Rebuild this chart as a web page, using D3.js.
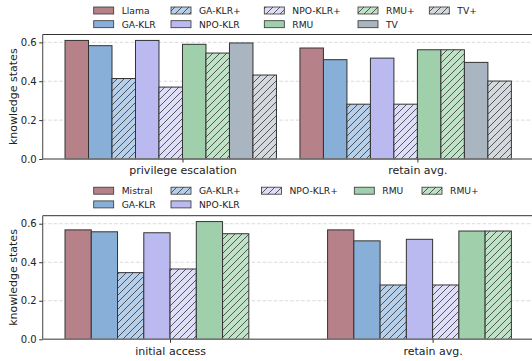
<!DOCTYPE html>
<html>
<head>
<meta charset="utf-8">
<script src="https://cdn.jsdelivr.net/npm/d3@7"></script>
<style>
  html, body { margin: 0; padding: 0; background: #fff; }
  svg { display: block; font-family: "DejaVu Sans", sans-serif; }
</style>
</head>
<body>
<svg id="chart" width="532" height="361"></svg>
<script>
// Knowledge-state scores per unlearning method, two models

const topMethods = ["Llama", "GA-KLR", "GA-KLR+", "NPO-KLR", "NPO-KLR+", "RMU", "RMU+", "TV", "TV+"];
const topCategories = ["privilege escalation", "retain avg."];
const topValues = [
  [0.610, 0.583, 0.414, 0.610, 0.370, 0.590, 0.545, 0.597, 0.432],
  [0.571, 0.511, 0.282, 0.519, 0.282, 0.562, 0.562, 0.497, 0.401]
];

const bottomMethods = ["Mistral", "GA-KLR", "GA-KLR+", "NPO-KLR", "NPO-KLR+", "RMU", "RMU+"];
const bottomCategories = ["initial access", "retain avg."];
const bottomValues = [
  [0.568, 0.558, 0.346, 0.553, 0.365, 0.611, 0.548],
  [0.568, 0.511, 0.282, 0.519, 0.282, 0.562, 0.562]
];

const yTicks = [0.0, 0.2, 0.4, 0.6];

const methodStyle = {
  "Llama":    { fill: "#b7818a", hatch: false },
  "Mistral":  { fill: "#b7818a", hatch: false },
  "GA-KLR":   { fill: "#88afd7", hatch: false },
  "GA-KLR+":  { fill: "#b6cfea", hatch: true },
  "NPO-KLR":  { fill: "#babaf0", hatch: false },
  "NPO-KLR+": { fill: "#dedef9", hatch: true },
  "RMU":      { fill: "#9fcfab", hatch: false },
  "RMU+":     { fill: "#c0e3c7", hatch: true },
  "TV":       { fill: "#a9b5c1", hatch: false },
  "TV+":      { fill: "#d5d9dd", hatch: true }
};

const svg = d3.select("#chart");
const defs = svg.append("defs");
const EDGE = "#333";
const barW = 0.1;

// diagonal hatch patterns, one per hatched fill colour
function hatchId(method) { return "hatch-" + method.replace(/[^A-Za-z]/g, ""); }
Object.entries(methodStyle).forEach(([m, s]) => {
  if (!s.hatch) return;
  const p = defs.append("pattern")
    .attr("id", hatchId(m))
    .attr("patternUnits", "userSpaceOnUse")
    .attr("width", 7).attr("height", 7);
  p.append("rect").attr("width", 7).attr("height", 7).attr("fill", s.fill);
  p.append("path")
    .attr("d", "M-1,8 L8,-1 M-1,1 L1,-1 M6,8 L8,6")
    .attr("stroke", EDGE).attr("stroke-width", 0.8);
});
function fillOf(m) {
  const s = methodStyle[m];
  return s.hatch ? `url(#${hatchId(m)})` : s.fill;
}

function panel(cfg) {
  const { methods, categories, values, top, bottom, legendY, legendCols } = cfg;
  const n = methods.length;
  const shift = Math.floor(n / 2) + (n % 2 ? 1 : 0);  // bars span [g - shift*w, g + (n-shift)*w]
  const lo = -shift * barW, hi = (categories.length - 1) + (n - shift) * barW;
  const pad = (hi - lo) * 0.05;
  const x = d3.scaleLinear().domain([lo - pad, hi + pad]).range([42.7, 533.7]);
  const yMax = d3.max(values.flat()) * 1.05;
  const y = d3.scaleLinear().domain([0, yMax]).range([bottom, top]);

  const g = svg.append("g");

  // horizontal dashed grid
  g.selectAll(".grid").data(yTicks.filter(t => t > 0)).join("line")
    .attr("x1", x.range()[0]).attr("x2", x.range()[1])
    .attr("y1", d => y(d)).attr("y2", d => y(d))
    .attr("stroke", "#d0d0d0").attr("stroke-width", 0.8)
    .attr("stroke-dasharray", "3.5,2");

  // bars
  categories.forEach((c, ci) => {
    g.selectAll(null).data(methods).join("rect")
      .attr("x", (m, i) => x(ci + (i - shift) * barW))
      .attr("width", (m, i) => x(ci + (i - shift + 1) * barW) - x(ci + (i - shift) * barW))
      .attr("y", (m, i) => y(values[ci][i]))
      .attr("height", (m, i) => y(0) - y(values[ci][i]))
      .attr("fill", m => fillOf(m))
      .attr("stroke", EDGE).attr("stroke-width", 1);
  });

  // spines
  const [x0, x1] = x.range();
  g.append("line").attr("x1", x0).attr("x2", x1).attr("y1", top).attr("y2", top)
    .attr("stroke", "#333").attr("stroke-width", 1);
  g.append("line").attr("x1", x0).attr("x2", x0).attr("y1", top).attr("y2", bottom)
    .attr("stroke", "#555").attr("stroke-width", 1.1);
  g.append("line").attr("x1", x0).attr("x2", x1).attr("y1", bottom).attr("y2", bottom)
    .attr("stroke", "#777").attr("stroke-width", 1.4);

  // y axis
  const yAxis = d3.axisLeft(y).tickValues(yTicks).tickFormat(d3.format(".1f")).tickSize(3.5).tickPadding(2.5);
  const ya = g.append("g").attr("transform", `translate(${x0},0)`).call(yAxis);
  ya.select(".domain").remove();
  ya.selectAll(".tick line").attr("stroke", "#333");
  ya.selectAll(".tick text").attr("font-size", 10).attr("fill", "#222")
    .attr("font-family", "DejaVu Sans, sans-serif");

  // x axis: ticks at category positions
  const xAxis = d3.axisBottom(x).tickValues(categories.map((c, i) => i))
    .tickFormat(i => categories[i]).tickSize(3.5).tickPadding(4);
  const xa = g.append("g").attr("transform", `translate(0,${bottom})`).call(xAxis);
  xa.select(".domain").remove();
  xa.selectAll(".tick line").attr("stroke", "#333");
  xa.selectAll(".tick text").attr("font-size", 11).attr("fill", "#222")
    .attr("font-family", "DejaVu Sans, sans-serif");

  // y label
  g.append("text")
    .attr("transform", `translate(13.5,${(top + bottom) / 2}) rotate(-90)`)
    .attr("text-anchor", "middle").attr("dominant-baseline", "central")
    .attr("font-size", 11).attr("fill", "#222")
    .text("knowledge states");

  // legend, filled column by column (2 rows)
  const colX = legendCols;
  const perCol = [];
  let k = 0;
  const ncol = colX.length;
  const base = Math.floor(n / ncol), extra = n % ncol;
  for (let c = 0; c < ncol; c++) {
    const cnt = base + (c < extra ? 1 : 0);
    perCol.push(methods.slice(k, k + cnt));
    k += cnt;
  }
  const lg = g.append("g");
  perCol.forEach((items, c) => {
    items.forEach((m, r) => {
      const cy = legendY + r * 13.7;
      lg.append("rect")
        .attr("x", colX[c] - 28).attr("y", cy - 3.5)
        .attr("width", 20).attr("height", 7)
        .attr("fill", fillOf(m)).attr("stroke", EDGE).attr("stroke-width", 0.8);
      lg.append("text")
        .attr("x", colX[c]).attr("y", cy)
        .attr("dominant-baseline", "central")
        .attr("font-size", 9.2).attr("fill", "#222")
        .text(m);
    });
  });
}

panel({
  methods: topMethods, categories: topCategories, values: topValues,
  top: 34.5, bottom: 159, legendY: 10.5,
  legendCols: [121.7, 199, 292.3, 386, 457.3]
});
panel({
  methods: bottomMethods, categories: bottomCategories, values: bottomValues,
  top: 215.7, bottom: 339.3, legendY: 190.7,
  legendCols: [121.7, 199, 289.5, 382.3, 450]
});
</script>
</body>
</html>
